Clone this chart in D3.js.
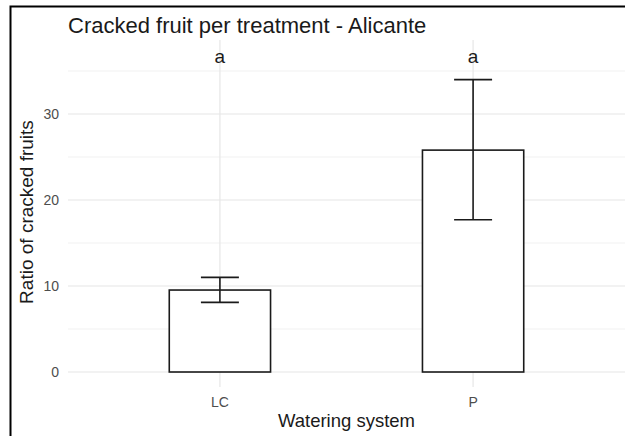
<!DOCTYPE html>
<html>
<head>
<meta charset="utf-8">
<script src="https://cdn.jsdelivr.net/npm/d3@7"></script>
<style>
  html, body { margin: 0; padding: 0; background: #fff; }
  svg { display: block; font-family: "Liberation Sans", Arial, sans-serif; }
</style>
</head>
<body>
<svg id="chart" width="625" height="436"></svg>
<script>
// Cracked fruit ratio per watering system (mean ± error)
const categories = ["LC", "P"];
const means = [9.53, 25.8];
const lower = [8.1, 17.7];
const upper = [11.0, 34.0];
const groupLabels = ["a", "a"];
const yTicks = [0, 10, 20, 30];
const yMinorTicks = [5, 15, 25, 35];

const W = 625, H = 436;
const panel = { left: 68, right: 625, top: 40, bottom: 387 };

const svg = d3.select("#chart");

// outer frame (top and left edges visible)
svg.append("path")
  .attr("d", `M10.5,${H} L10.5,6.5 L${W},6.5`)
  .attr("fill", "none").attr("stroke", "#000").attr("stroke-width", 2);

// discrete x positions: categories at 1..n with 0.6 expansion each side
const x = d3.scaleLinear()
  .domain([0.4, categories.length + 0.6])
  .range([panel.left, panel.right]);
const cx = i => x(i + 1);

const y = d3.scaleLinear()
  .domain([0, 30])
  .range([372, 114]);

const barHalf = 0.2, capHalf = 0.075;

// grid
const grid = svg.append("g");
grid.selectAll("line.minor").data(yMinorTicks).join("line")
  .attr("x1", panel.left).attr("x2", panel.right)
  .attr("y1", d => y(d)).attr("y2", d => y(d))
  .attr("stroke", "#ededed").attr("stroke-width", 0.8);
grid.selectAll("line.major").data(yTicks).join("line")
  .attr("x1", panel.left).attr("x2", panel.right)
  .attr("y1", d => y(d)).attr("y2", d => y(d))
  .attr("stroke", "#e6e6e6").attr("stroke-width", 1.2);
grid.selectAll("line.vx").data(categories).join("line")
  .attr("x1", (d, i) => cx(i)).attr("x2", (d, i) => cx(i))
  .attr("y1", panel.top).attr("y2", panel.bottom)
  .attr("stroke", "#e6e6e6").attr("stroke-width", 1.2);

// bars
svg.append("g").selectAll("rect").data(means).join("rect")
  .attr("x", (d, i) => x(i + 1 - barHalf))
  .attr("width", (d, i) => x(i + 1 + barHalf) - x(i + 1 - barHalf))
  .attr("y", d => y(d))
  .attr("height", d => y(0) - y(d))
  .attr("fill", "#fff").attr("stroke", "#1a1a1a").attr("stroke-width", 1.6);

// error bars
const eb = svg.append("g").attr("stroke", "#1a1a1a").attr("stroke-width", 1.6);
categories.forEach((c, i) => {
  eb.append("line").attr("x1", cx(i)).attr("x2", cx(i))
    .attr("y1", y(lower[i])).attr("y2", y(upper[i]));
  [lower[i], upper[i]].forEach(v => {
    eb.append("line")
      .attr("x1", x(i + 1 - capHalf)).attr("x2", x(i + 1 + capHalf))
      .attr("y1", y(v)).attr("y2", y(v));
  });
});

// group letters
svg.append("g").selectAll("text").data(groupLabels).join("text")
  .attr("x", (d, i) => cx(i)).attr("y", 63)
  .attr("text-anchor", "middle").attr("font-size", 19).attr("fill", "#1a1a1a")
  .text(d => d);

// y axis labels
svg.append("g").selectAll("text").data(yTicks).join("text")
  .attr("x", 59).attr("y", d => y(d)).attr("dy", "0.35em")
  .attr("text-anchor", "end").attr("font-size", 14).attr("fill", "#4d4d4d")
  .text(d => d);

// x axis labels
svg.append("g").selectAll("text").data(categories).join("text")
  .attr("x", (d, i) => cx(i)).attr("y", 407)
  .attr("text-anchor", "middle").attr("font-size", 14).attr("fill", "#4d4d4d")
  .text(d => d);

// axis titles
svg.append("text")
  .attr("x", (panel.left + panel.right) / 2).attr("y", 427)
  .attr("text-anchor", "middle").attr("font-size", 18.5).attr("fill", "#1a1a1a")
  .text("Watering system");
svg.append("text")
  .attr("transform", `translate(33,212) rotate(-90)`)
  .attr("text-anchor", "middle").attr("font-size", 19).attr("fill", "#1a1a1a")
  .text("Ratio of cracked fruits");

// title
svg.append("text")
  .attr("x", 68).attr("y", 33)
  .attr("font-size", 22).attr("fill", "#1a1a1a")
  .text("Cracked fruit per treatment - Alicante");
</script>
</body>
</html>
